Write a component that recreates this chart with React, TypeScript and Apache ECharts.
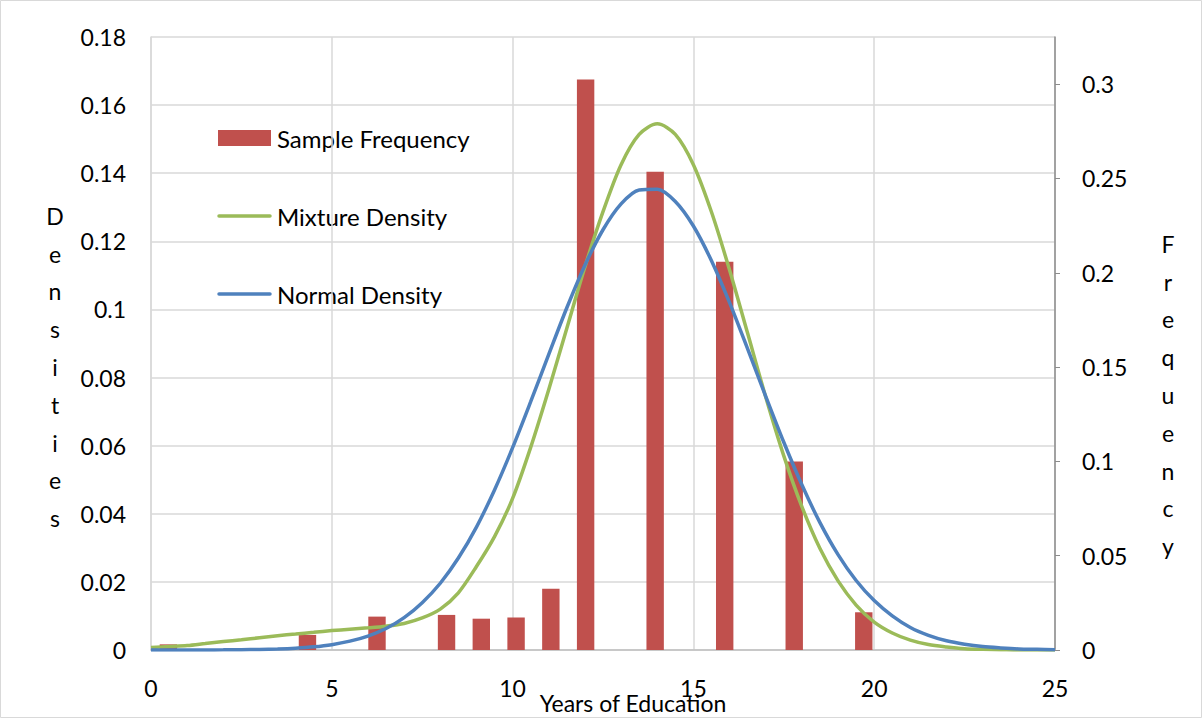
import React, { useEffect, useRef } from "react";
import * as echarts from "echarts";

// Histogram categories (years of education) on the hidden category axis
const yearCategories = ["0","1","2","3","4","5","6","7","8","9","10","11","12","13","14","15","16","17","18","19","20","21","22","23","24","25"];
// Sample frequency bars (right axis)
const freqYears = ["0", "4", "6", "8", "9", "10", "11", "12", "14", "16", "18", "20"];
const freqValues = [0.003, 0.008, 0.0177, 0.0186, 0.0166, 0.0172, 0.0325, 0.3025, 0.2535, 0.2058, 0.1, 0.02];

// Density curves (left axis), sampled every half year
const densityX = [0, 0.5, 1, 1.5, 2, 2.5, 3, 3.5, 4, 4.5, 5, 5.5, 6, 6.5, 7, 7.5, 8, 8.5, 9, 9.5, 10, 10.5, 11, 11.5, 12, 12.5, 13, 13.5, 14, 14.5, 15, 15.5, 16, 16.5, 17, 17.5, 18, 18.5, 19, 19.5, 20, 20.5, 21, 21.5, 22, 22.5, 23, 23.5, 24, 24.5, 25];
const mixtureDensity = [0.0007, 0.001, 0.0013, 0.0019, 0.0025, 0.003, 0.0036, 0.0042, 0.0047, 0.0052, 0.0057, 0.0061, 0.0065, 0.007, 0.0078, 0.0094, 0.012, 0.0168, 0.0245, 0.0333, 0.0445, 0.0595, 0.0765, 0.0945, 0.1125, 0.1287, 0.1425, 0.1514, 0.1545, 0.1514, 0.1425, 0.1286, 0.1116, 0.093, 0.0743, 0.057, 0.0421, 0.0298, 0.0203, 0.0132, 0.0082, 0.005, 0.0029, 0.0016, 0.0009, 0.0004, 0.0002, 0.0001, 0, 0, 0];
const normalDensity = [0, 0, 0.00001, 0.00002, 0.00004, 0.00009, 0.00016, 0.0003, 0.00054, 0.00093, 0.00157, 0.0026, 0.0041, 0.0063, 0.0095, 0.0139, 0.0196, 0.027, 0.0361, 0.047, 0.0594, 0.0729, 0.0868, 0.1005, 0.113, 0.1234, 0.131, 0.1351, 0.1353, 0.1317, 0.1245, 0.1143, 0.102, 0.0884, 0.0745, 0.061, 0.0485, 0.0374, 0.028, 0.0204, 0.0145, 0.01, 0.0066, 0.0043, 0.0027, 0.0017, 0.001, 0.0006, 0.0003, 0.0002, 0.0001];

const legendNames = ["Sample Frequency", "Mixture Density", "Normal Density"];
const COLORS = ["#C0504D", "#9BBB59", "#4F81BD"];
const FONT = "Lato";

export default function App() {
  const ref = useRef<HTMLDivElement>(null);
  useEffect(() => {
    document.body.style.margin = "0";
    const chart = echarts.init(ref.current!, null, { renderer: "svg" });
    const legendX = 218;
    const legendY = [138, 216, 294];
    const legendGraphics: any[] = [];
    legendNames.forEach((name, i) => {
      if (i === 0) {
        legendGraphics.push({
          type: "rect",
          shape: { x: legendX, y: legendY[i] - 8, width: 53, height: 16 },
          style: { fill: COLORS[i] },
        });
      } else {
        legendGraphics.push({
          type: "line",
          shape: { x1: legendX + 1, y1: legendY[i], x2: legendX + 52, y2: legendY[i] },
          style: { stroke: COLORS[i], lineWidth: 3.5, lineCap: "round" },
        });
      }
      legendGraphics.push({
        type: "text",
        x: legendX + 59,
        y: legendY[i],
        style: {
          text: name,
          fontFamily: FONT,
          fontSize: 24,
          fill: "#000",
          align: "left",
          verticalAlign: "middle",
        },
      });
    });

    chart.setOption({
      animation: false,
      backgroundColor: "#ffffff",
      textStyle: { fontFamily: FONT },
      grid: { left: 151, top: 37, width: 904, height: 613 },
      xAxis: [
        {
          type: "value",
          min: 0,
          max: 25,
          interval: 5,
          axisLine: { show: true, lineStyle: { color: "#bfbfbf", width: 1.5 } },
          axisTick: { show: false },
          axisLabel: { margin: 26, fontSize: 23, color: "#000", fontFamily: FONT },
          splitLine: { show: true, lineStyle: { color: "#d9d9d9", width: 1.5 } },
        },
        {
          type: "category",
          data: yearCategories,
          show: false,
          boundaryGap: true,
        },
      ],
      yAxis: [
        {
          type: "value",
          min: 0,
          max: 0.18,
          interval: 0.02,
          axisLine: { show: true, lineStyle: { color: "#d9d9d9", width: 1.5 } },
          axisTick: { show: false },
          axisLabel: { margin: 25, fontSize: 23, color: "#000", fontFamily: FONT },
          splitLine: { show: true, lineStyle: { color: "#d9d9d9", width: 1.5 } },
        },
        {
          type: "value",
          position: "right",
          min: 0,
          max: 0.325,
          interval: 0.05,
          axisLine: { show: true, lineStyle: { color: "#8c8c8c", width: 1.5 } },
          axisTick: { show: true, inside: false, length: 5, lineStyle: { color: "#8c8c8c" } },
          axisLabel: { margin: 27, fontSize: 23, color: "#000", fontFamily: FONT, showMaxLabel: false },
          splitLine: { show: false },
        },
      ],
      series: [
        {
          name: legendNames[0],
          type: "bar",
          xAxisIndex: 1,
          yAxisIndex: 1,
          barWidth: 17.4,
          itemStyle: { color: COLORS[0] },
          data: freqYears.map((y, i) => [y, freqValues[i]]),
          z: 2,
        },
        {
          name: legendNames[1],
          type: "line",
          xAxisIndex: 0,
          yAxisIndex: 0,
          smooth: 0.3,
          symbol: "none",
          lineStyle: { color: COLORS[1], width: 3.5 },
          itemStyle: { color: COLORS[1] },
          data: densityX.map((x, i) => [x, mixtureDensity[i]]),
          z: 3,
        },
        {
          name: legendNames[2],
          type: "line",
          xAxisIndex: 0,
          yAxisIndex: 0,
          smooth: 0.3,
          symbol: "none",
          lineStyle: { color: COLORS[2], width: 3.5 },
          itemStyle: { color: COLORS[2] },
          data: densityX.map((x, i) => [x, normalDensity[i]]),
          z: 4,
        },
      ],
      graphic: [
        {
          type: "rect",
          shape: { x: 0.5, y: 0.5, width: 1201, height: 717 },
          style: { fill: "none", stroke: "#d9d9d9", lineWidth: 1 },
          silent: true,
        },
        ...legendGraphics,
        {
          type: "text",
          x: 55,
          y: 367,
          style: {
            text: "D\ne\nn\ns\ni\nt\ni\ne\ns",
            fontFamily: FONT,
            fontSize: 23,
            lineHeight: 37.8,
            fill: "#000",
            align: "center",
            verticalAlign: "middle",
          },
        },
        {
          type: "text",
          x: 1168,
          y: 395,
          style: {
            text: "F\nr\ne\nq\nu\ne\nn\nc\ny",
            fontFamily: FONT,
            fontSize: 23,
            lineHeight: 37.8,
            fill: "#000",
            align: "center",
            verticalAlign: "middle",
          },
        },
        {
          type: "text",
          x: 633,
          y: 703,
          style: {
            text: "Years of Education",
            fontFamily: FONT,
            fontSize: 23,
            fill: "#000",
            align: "center",
            verticalAlign: "middle",
          },
        },
      ],
    });
    return () => chart.dispose();
  }, []);
  return <div ref={ref} style={{ width: 1203, height: 719 }} />;
}
